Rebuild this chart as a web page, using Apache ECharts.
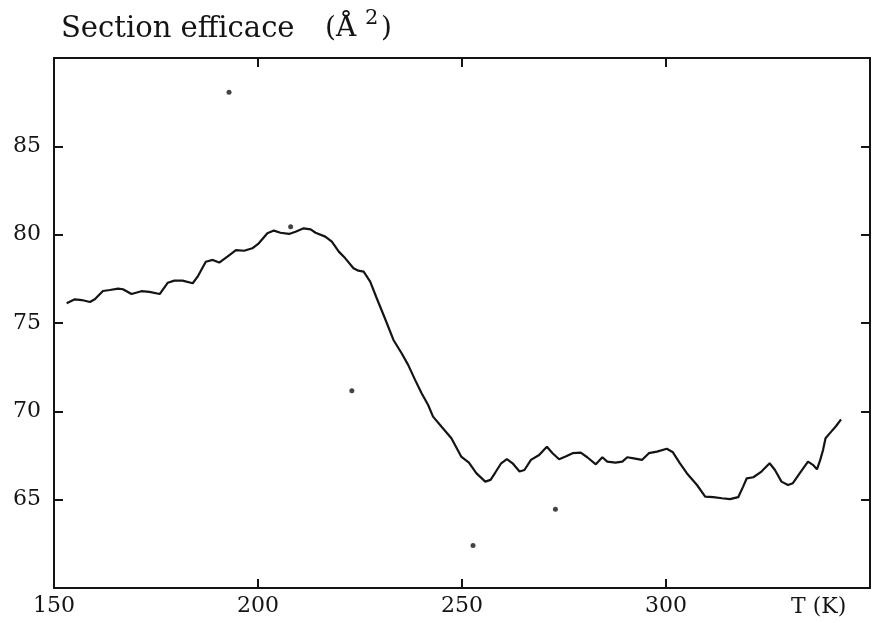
<!DOCTYPE html>
<html>
<head>
<meta charset="utf-8">
<script src="https://cdn.jsdelivr.net/npm/echarts@6/dist/echarts.min.js"></script>
<style>
  html, body { margin: 0; padding: 0; background: #fff; }
  #chart { width: 873px; height: 623px; }
</style>
</head>
<body>
<div id="chart"></div>
<script>
// temperature (K) of the smoothed curve
const temps = [
  153.1, 155.1, 156.8, 158.8, 160.0, 162.0, 163.7, 165.7, 166.9, 169.0,
  171.4, 173.4, 175.9, 177.9, 179.5, 181.5, 184.0, 185.2, 187.2, 188.9,
  190.5, 192.5, 194.6, 196.6, 198.6, 200.2, 202.3, 203.9, 205.5, 207.6,
  209.2, 211.2, 212.9, 214.1, 216.5, 218.1, 219.8, 221.4, 223.4, 224.6,
  225.9, 227.5, 229.1, 231.1, 233.2, 235.2, 236.8, 238.5, 240.1, 241.7,
  242.9, 245.0, 247.4, 249.8, 251.7, 253.5, 255.7, 257.0, 258.2, 259.6,
  261.0, 262.4, 264.1, 265.3, 266.9, 268.9, 270.8, 272.2, 273.8, 275.4,
  277.1, 279.1, 280.7, 282.8, 284.4, 285.6, 287.6, 289.3, 290.5, 292.1,
  294.1, 295.8, 297.8, 300.2, 301.7, 303.3, 305.1, 307.6, 309.6, 311.6,
  313.7, 315.7, 317.7, 318.9, 319.8, 321.4, 323.4, 325.4, 326.7, 328.3,
  329.9, 331.1, 332.8, 334.8, 336.0, 337.0, 337.8, 338.5, 339.1, 340.5,
  341.7, 342.9
];
// cross section (Å²) of the smoothed curve
const sections = [
  76.12, 76.34, 76.30, 76.19, 76.34, 76.81, 76.87, 76.95, 76.91, 76.64,
  76.80, 76.76, 76.64, 77.28, 77.40, 77.40, 77.25, 77.62, 78.47, 78.57,
  78.42, 78.76, 79.13, 79.09, 79.23, 79.51, 80.08, 80.23, 80.11, 80.04,
  80.17, 80.36, 80.30, 80.11, 79.89, 79.60, 79.04, 78.66, 78.10, 77.96,
  77.91, 77.34, 76.40, 75.27, 74.04, 73.29, 72.63, 71.78, 71.02, 70.36,
  69.70, 69.13, 68.48, 67.44, 67.10, 66.50, 66.02, 66.12, 66.55, 67.06,
  67.29, 67.06, 66.59, 66.68, 67.25, 67.53, 68.00, 67.63, 67.29, 67.44,
  67.63, 67.66, 67.40, 67.00, 67.40, 67.15, 67.10, 67.15, 67.40, 67.34,
  67.25, 67.63, 67.72, 67.88, 67.68, 67.10, 66.50, 65.83, 65.17, 65.14,
  65.08, 65.03, 65.14, 65.74, 66.21, 66.27, 66.59, 67.06, 66.68, 66.02,
  65.83, 65.93, 66.50, 67.15, 66.97, 66.72, 67.25, 67.82, 68.48, 68.85,
  69.17, 69.55
];
// isolated points
const outlierT = [192.9, 208.0, 223.0, 252.7, 272.9];
const outlierS = [88.06, 80.45, 71.17, 62.4, 64.46];

const xTicks = [150, 200, 250, 300];
const yTicks = [65, 70, 75, 80, 85];

const serif = "DejaVu Serif";
const ink = "#141414";

const chart = echarts.init(document.getElementById("chart"));

const frameAxis = {
  axisLine: { show: true, lineStyle: { color: ink, width: 2 } },
  axisTick: { show: true, inside: true, length: 9, lineStyle: { color: ink, width: 2 } },
  splitLine: { show: false },
};

chart.setOption({
  animation: false,
  backgroundColor: "#fff",
  grid: { left: 54, right: -2, top: 58, bottom: 35 },
  xAxis: [
    {
      type: "value", min: 150, max: 350, interval: 50, position: "bottom",
      ...frameAxis,
      axisLabel: {
        color: ink, fontFamily: serif, fontSize: 22, margin: 7,
        formatter: (v) => (xTicks.includes(v) ? String(v) : ""),
      },
    },
    {
      type: "value", min: 150, max: 350, interval: 50, position: "top",
      ...frameAxis,
      axisLabel: { show: false },
    },
  ],
  yAxis: [
    {
      type: "value", min: 60, max: 90, interval: 5, position: "left",
      ...frameAxis,
      axisLabel: {
        color: ink, fontFamily: serif, fontSize: 22, margin: 13,
        formatter: (v) => (yTicks.includes(v) ? String(v) : ""),
      },
    },
    {
      type: "value", min: 60, max: 90, interval: 5, position: "right",
      ...frameAxis,
      axisLabel: { show: false },
    },
  ],
  graphic: [
    {
      type: "text", left: 61, top: 15,
      style: { text: "Section efficace", font: "29px 'DejaVu Serif'", fill: ink },
    },
    {
      type: "text", left: 325, top: 15,
      style: { text: "(Å", font: "28px 'DejaVu Serif'", fill: ink },
    },
    {
      type: "text", left: 365, top: 8,
      style: { text: "2", font: "21px 'DejaVu Serif'", fill: ink },
    },
    {
      type: "text", left: 381, top: 15,
      style: { text: ")", font: "28px 'DejaVu Serif'", fill: ink },
    },
    {
      type: "text", left: 791, top: 596,
      style: { text: "T (K)", font: "22px 'DejaVu Serif'", fill: ink },
    },
  ],
  series: [
    {
      type: "line",
      data: temps.map((t, i) => [t, sections[i]]),
      showSymbol: false,
      smooth: false,
      lineStyle: { color: ink, width: 2.2 },
    },
    {
      type: "scatter",
      data: outlierT.map((t, i) => [t, outlierS[i]]),
      symbolSize: 5,
      itemStyle: { color: ink },
    },
  ],
});
</script>
</body>
</html>
